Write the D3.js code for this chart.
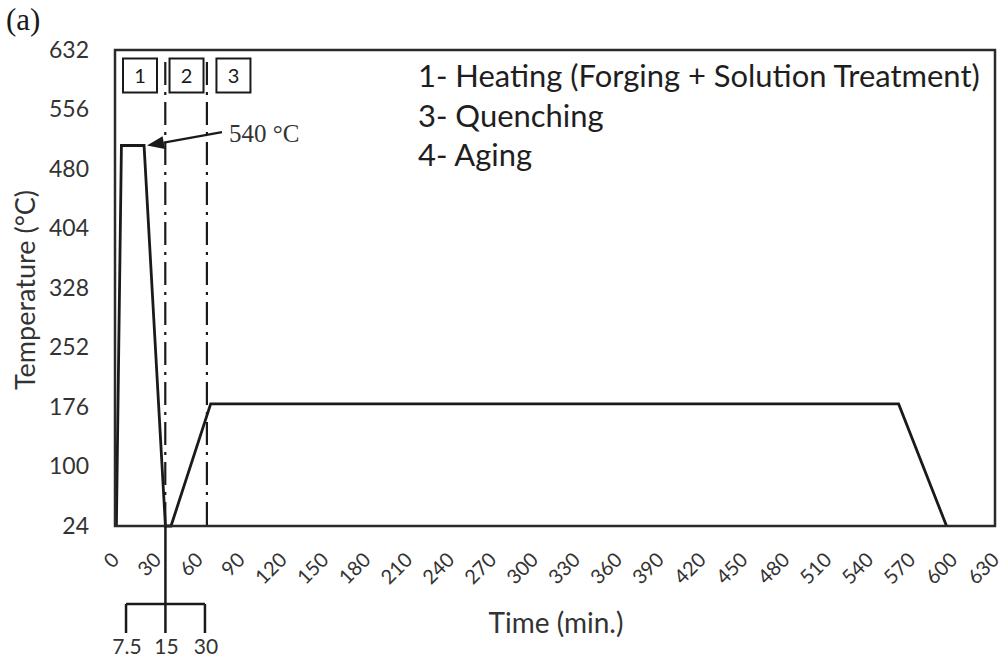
<!DOCTYPE html>
<html><head><meta charset="utf-8">
<script src="https://cdn.jsdelivr.net/npm/d3@7"></script>
<style>
html,body{margin:0;padding:0;background:#fff;}
svg{display:block;}
</style></head>
<body>
<svg id="chart" width="1008" height="660"></svg>
<script>
// ---- data ----
const yTicks = [24, 100, 176, 252, 328, 404, 480, 556, 632];
const xTicks = [0, 30, 60, 90, 120, 150, 180, 210, 240, 270, 300, 330, 360, 390, 420, 450, 480, 510, 540, 570, 600, 630];
const profileTime = [1, 4.6, 20.8, 36.1, 40.1, 68.5, 561, 595.3];
const profileTemp = [24, 510, 510, 24, 24, 180, 180, 24];
const stageLineTimes = [36, 65.8];
const stageLabels = ["1", "2", "3"];
const stageLabelTimes = [17.9, 51.2, 84.8];
const legendItems = ["1- Heating (Forging + Solution Treatment)", "3- Quenching", "4- Aging"];
const bracketTimes = [7.9, 36.1, 64.4];
const bracketLabels = ["7.5", "15", "30"];
const peakLabel = "540 °C";
const arrowFrom = [76.6, 527];
const arrowTo = [22.9, 510];
const panelLabel = "(a)";
const xTitle = "Time (min.)";
const yTitle = "Temperature (°C)";

// ---- layout ----
const svg = d3.select("#chart");
const L = 115, R = 995, T = 50, B = 526;
const x = d3.scaleLinear().domain([0, 630]).range([L, R]);
const y = d3.scaleLinear().domain([24, 632]).range([B, T]);
const ink = "#1a1a1a";
const sans = "Lato, 'Open Sans', sans-serif";
const serif = "'Liberation Serif', 'DejaVu Serif', serif";

// panel label
svg.append("text").attr("x", 6).attr("y", 30).attr("font-family", serif)
  .attr("font-size", 31).attr("fill", ink).text(panelLabel);

// y axis
const gy = svg.append("g").attr("transform", `translate(${L},0)`)
  .call(d3.axisLeft(y).tickValues(yTicks).tickSize(0).tickPadding(26).tickFormat(d => d));
gy.select(".domain").remove();
gy.selectAll("text").attr("font-family", sans).attr("font-size", 23).attr("fill", "#333");

// x axis
const gx = svg.append("g").attr("transform", `translate(0,${B})`)
  .call(d3.axisBottom(x).tickValues(xTicks).tickSize(0).tickFormat(d => d));
gx.select(".domain").remove();
gx.selectAll("text")
  .attr("font-family", sans).attr("font-size", 20).attr("fill", "#333")
  .attr("text-anchor", "end").attr("dy", 0).attr("y", 0)
  .attr("transform", "translate(5,35) rotate(-45)");

// axis titles
svg.append("text").attr("transform", `translate(35,290) rotate(-90)`)
  .attr("text-anchor", "middle").attr("font-family", sans).attr("font-size", 27)
  .attr("fill", "#333").text(yTitle);
svg.append("text").attr("x", 556).attr("y", 633).attr("text-anchor", "middle")
  .attr("font-family", sans).attr("font-size", 28).attr("fill", "#333").text(xTitle);

// stage dash-dot lines
svg.append("g").selectAll("line").data(stageLineTimes).join("line")
  .attr("x1", d => x(d)).attr("x2", d => x(d))
  .attr("y1", 62).attr("y2", B)
  .attr("stroke", ink).attr("stroke-width", 2.2)
  .attr("stroke-dasharray", "23,7,3,7");

// stage label boxes
const sg = svg.append("g").selectAll("g").data(stageLabels).join("g")
  .attr("transform", (d, i) => `translate(${x(stageLabelTimes[i])},${75.5})`);
sg.append("rect").attr("x", -17).attr("y", -17).attr("width", 34).attr("height", 34)
  .attr("fill", "#fff").attr("stroke", ink).attr("stroke-width", 2);
sg.append("text").attr("text-anchor", "middle").attr("dy", "0.36em")
  .attr("font-family", sans).attr("font-size", 20).attr("fill", ink).text(d => d);

// profile line
const pts = profileTime.map((t, i) => [t, profileTemp[i]]);
svg.append("path").datum(pts)
  .attr("d", d3.line().x(d => x(d[0])).y(d => y(d[1])))
  .attr("fill", "none").attr("stroke", ink).attr("stroke-width", 2.8)
  .attr("stroke-linejoin", "miter");

// plot box
svg.append("rect").attr("x", L).attr("y", T).attr("width", R - L).attr("height", B - T)
  .attr("fill", "none").attr("stroke", "#2a2a2a").attr("stroke-width", 2.5);

// bracket below axis
const bY1 = 604, bY2 = 633;
const bg = svg.append("g").attr("stroke", ink).attr("stroke-width", 2.5).attr("fill", "none");
bg.append("line").attr("x1", x(bracketTimes[1])).attr("x2", x(bracketTimes[1]))
  .attr("y1", B).attr("y2", bY1);
bg.append("line").attr("x1", x(bracketTimes[0])).attr("x2", x(bracketTimes[2]))
  .attr("y1", bY1).attr("y2", bY1);
bg.selectAll("line.tk").data(bracketTimes).join("line").attr("class", "tk")
  .attr("x1", d => x(d)).attr("x2", d => x(d)).attr("y1", bY1).attr("y2", bY2);
svg.append("g").selectAll("text").data(bracketLabels).join("text")
  .attr("x", (d, i) => x(bracketTimes[i]) + 1).attr("y", 654)
  .attr("text-anchor", "middle").attr("font-family", sans).attr("font-size", 21)
  .attr("fill", "#333").text(d => d);

// arrow annotation
const ax1 = x(arrowFrom[0]), ay1 = y(arrowFrom[1]);
const ax2 = x(arrowTo[0]), ay2 = y(arrowTo[1]);
const ang = Math.atan2(ay2 - ay1, ax2 - ax1);
const hl = 17, hw = 6.5;
const bx = ax2 - hl * Math.cos(ang), by = ay2 - hl * Math.sin(ang);
svg.append("line").attr("x1", ax1).attr("y1", ay1).attr("x2", bx).attr("y2", by)
  .attr("stroke", ink).attr("stroke-width", 2.2);
svg.append("path")
  .attr("d", `M${ax2},${ay2} L${bx + hw * Math.sin(ang)},${by - hw * Math.cos(ang)} L${bx - hw * Math.sin(ang)},${by + hw * Math.cos(ang)} Z`)
  .attr("fill", ink);
svg.append("text").attr("x", x(arrowFrom[0]) + 7).attr("y", y(arrowFrom[1]) + 10)
  .attr("font-family", serif).attr("font-size", 25).attr("fill", "#333").text(peakLabel);

// legend text
const lg = svg.append("g").selectAll("text").data(legendItems).join("text")
  .attr("x", 418).attr("y", (d, i) => 87 + i * 39.5)
  .attr("font-family", sans).attr("font-size", 27).attr("fill", "#1e1e1e").text(d => d);
const w0 = lg.nodes()[0].getComputedTextLength();
const fs = 27 * 562 / w0;
lg.attr("font-size", fs);
</script>
</body></html>
